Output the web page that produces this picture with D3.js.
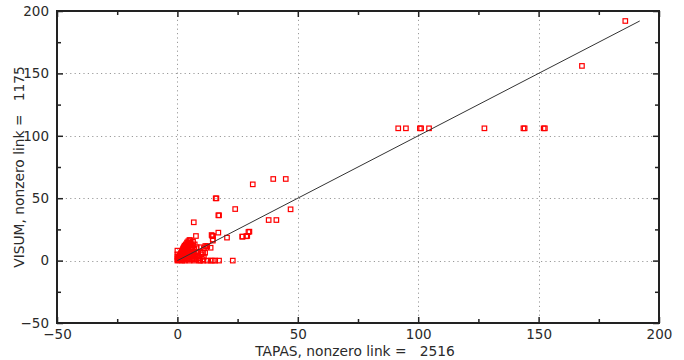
<!DOCTYPE html>
<html><head><meta charset="utf-8">
<script src="https://cdn.jsdelivr.net/npm/d3@7"></script>
<style>body{margin:0;background:#fff}svg text{font-family:"DejaVu Sans",Verdana,sans-serif;}</style>
</head><body><svg id="c" width="684" height="360"></svg>
<script>
const xTicks = [-50, 0, 50, 100, 150, 200];
const yTicks = [-50, 0, 50, 100, 150, 200];
const minorTicks = [-25, 25, 75, 125, 175];
const xTitle = "TAPAS, nonzero link =   2516";
const yTitle = "VISUM, nonzero link =   1175";
const fitLine = [[0, 0], [192, 192]];
// TAPAS (x) values
const tapas = [
 186,168, 91.7,94.9,100.7,101.2,104.5,127.5,143.7,144.2,152.1,152.6,
 31.3,39.8,45,15.9,16.2,24,47,17,17.3,6.8,37.9,41.1,29.5,28.6,26.9,20.6,17,14.5,14.8,7.7,5.4,14.7,13.8,12.3,
 29.9,27.1,29,14.2,14.7,12.4,11,10.5,11.5,11.6,8,9.7,6.6,8.2,10.6,8,
 9.1,10.8,12.4,13.8,14.7,15.7,17.3,23,
 0,0.3,0.5,0.8,1,1,1.2,1.5,1.5,1.8,2,2,2,2.2,2.5,2.5,2.8,3,3,3,3.2,3.5,3.5,3.8,4,4,4.2,4.5,4.5,4.8,5,5,5,5.2,5.5,5.5,5.8,6,6,6.2,6.5,6.8,7,7,7.2,7.5,7.8,8,8.5,9,9.5,10,10.5,11,
 0.5,1,1.5,2,2.5,3,3.5,4,4.5,5,0,0,0,0.3,0.6,1.3,1.7,2.3,2.7,3.3,3.7,4.3,4.7,0.2,0.9,1.9,2.9,3.9,4.9,5.9,6.5,1.1,2.1,3.1,4.1,0,7.2,6.3
];
// VISUM (y) values
const visum = [
 192,156, 106,106,106,106,106,106,106,106,106,106,
 61.1,65.4,65.4,49.9,49.9,41.3,41.1,36.3,36.3,30.7,32.5,32.5,22.9,19.5,19.2,18.4,22.4,19.7,19.7,19.7,16.3,16,10.3,11.1,
 23.2,19.2,19.7,20.5,17,11.7,9.9,6.3,6.3,11.7,10.7,10.7,6.3,6.3,6.3,3.1,
 0,0,0,0,0,0,0,0,
 0,0.5,1,0.2,1.5,3,0.5,2,4,1,0,2.5,5,3.5,1,6,4,2,7,0,5,3,8,1,6,9.5,4,2,11,7,0,5,12.5,9,3,14,10.5,1,7,4,12,2,0,9,5,3,7,1,4,2,0,5,1,3,
 2,4,6,8,10,12,13,14.5,15.5,16.5,1,3,5,1.2,2.4,5.2,6.8,9.2,10.8,11.2,12,13.5,14.2,0.8,3.6,7.6,9.5,11.5,13.8,12.5,15,2.2,6.4,4.5,8.5,8,13,9.8
];

const svg = d3.select("#c");
const L = 57, R = 659, T = 11, B = 323;
const x = d3.scaleLinear().domain([-50, 200]).range([L, R]);
const y = d3.scaleLinear().domain([-50, 200]).range([B, T]);
const txt = "#2a2a2a";

// grid
const grid = svg.append("g").attr("stroke", "#9a9a9a").attr("stroke-width", 1).attr("stroke-dasharray", "1.2,3.2");
xTicks.filter(v => v > -50 && v < 200).forEach(v => {
  grid.append("line").attr("x1", Math.round(x(v)) + 0.5).attr("x2", Math.round(x(v)) + 0.5).attr("y1", T).attr("y2", B);
});
yTicks.filter(v => v > -50 && v < 200).forEach(v => {
  grid.append("line").attr("y1", Math.round(y(v)) + 0.5).attr("y2", Math.round(y(v)) + 0.5).attr("x1", L).attr("x2", R);
});

// points
const pts = tapas.map((t, i) => [t, visum[i]]);
const s = 4.5;
svg.append("g").selectAll("rect").data(pts).join("rect")
  .attr("x", d => x(d[0]) - s / 2).attr("y", d => y(d[1]) - s / 2)
  .attr("width", s).attr("height", s)
  .attr("fill", "none").attr("stroke", "#ff0000").attr("stroke-width", 1.2);

// fit line
svg.append("line")
  .attr("x1", x(fitLine[0][0])).attr("y1", y(fitLine[0][1]))
  .attr("x2", x(fitLine[1][0])).attr("y2", y(fitLine[1][1]))
  .attr("stroke", "#333").attr("stroke-width", 1);

// axes with inward ticks on all sides
const maj = 6, mnr = 4;
const axB = d3.axisBottom(x).tickValues(xTicks).tickSize(-maj).tickFormat(d3.format("d")).tickPadding(6);
const axL = d3.axisLeft(y).tickValues(yTicks).tickSize(-maj).tickFormat(d3.format("d")).tickPadding(8);
const axT = d3.axisTop(x).tickValues(xTicks).tickSize(-maj).tickFormat("");
const axR = d3.axisRight(y).tickValues(yTicks).tickSize(-maj).tickFormat("");
const mB = d3.axisBottom(x).tickValues(minorTicks).tickSize(-mnr).tickFormat("");
const mL = d3.axisLeft(y).tickValues(minorTicks).tickSize(-mnr).tickFormat("");
const mT = d3.axisTop(x).tickValues(minorTicks).tickSize(-mnr).tickFormat("");
const mR = d3.axisRight(y).tickValues(minorTicks).tickSize(-mnr).tickFormat("");
function style(g) {
  g.selectAll("path.domain").remove();
  g.selectAll("line").attr("stroke", "#222").attr("stroke-width", 1.5);
  g.selectAll("text").attr("fill", txt).attr("font-size", 13.5);
}
svg.append("g").attr("transform", `translate(0,${B})`).call(axB).call(style);
svg.append("g").attr("transform", `translate(${L},0)`).call(axL).call(style);
svg.append("g").attr("transform", `translate(0,${T})`).call(axT).call(style);
svg.append("g").attr("transform", `translate(${R},0)`).call(axR).call(style);
svg.append("g").attr("transform", `translate(0,${B})`).call(mB).call(style);
svg.append("g").attr("transform", `translate(${L},0)`).call(mL).call(style);
svg.append("g").attr("transform", `translate(0,${T})`).call(mT).call(style);
svg.append("g").attr("transform", `translate(${R},0)`).call(mR).call(style);

// frame
svg.append("rect").attr("x", L).attr("y", T).attr("width", R - L).attr("height", B - T)
  .attr("fill", "none").attr("stroke", "#222").attr("stroke-width", 2);

// titles
svg.append("text").attr("x", (L + R) / 2 - 3).attr("y", 356).attr("text-anchor", "middle")
  .attr("font-size", 13.8).attr("fill", txt).style("white-space", "pre").text(xTitle);
svg.append("text").attr("transform", `translate(24,${(T + B) / 2}) rotate(-90)`).attr("text-anchor", "middle")
  .attr("font-size", 13.8).attr("fill", txt).style("white-space", "pre").text(yTitle);
</script></body></html>
